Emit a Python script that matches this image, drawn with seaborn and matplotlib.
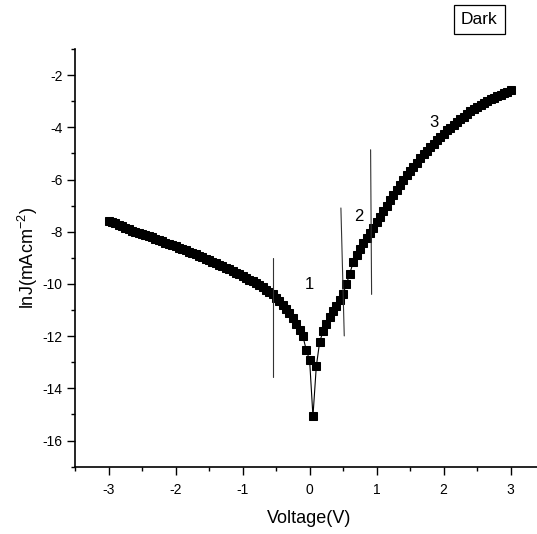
import numpy as np
import matplotlib
matplotlib.use("Agg")
import matplotlib.pyplot as plt
import pandas as pd
import seaborn as sns

# Dark J-V sweep, -3 V to +3 V in 0.05 V steps
voltage = np.round(np.linspace(-3.0, 3.0, 121), 2)

# ln J, reverse bias (-3.00 ... -0.10 V)
lnj_reverse = [
    -7.60, -7.63, -7.68, -7.73, -7.79, -7.85, -7.91, -7.96, -8.00, -8.04,
    -8.08, -8.13, -8.17, -8.22, -8.26, -8.31, -8.36, -8.42, -8.46, -8.51,
    -8.56, -8.61, -8.66, -8.71, -8.76, -8.81, -8.86, -8.92, -8.97, -9.03,
    -9.09, -9.14, -9.20, -9.26, -9.32, -9.38, -9.44, -9.50, -9.57, -9.63,
    -9.69, -9.76, -9.83, -9.90, -9.97, -10.05, -10.13, -10.22, -10.31, -10.40,
    -10.52, -10.65, -10.79, -10.95, -11.12, -11.31, -11.52, -11.76, -12.00,
]
# around zero (-0.05 ... 0.20 V)
lnj_zero = [-12.53, -12.92, -15.07, -13.16, -12.22, -11.82]
# forward bias (0.25 ... 3.00 V)
lnj_forward = [
    -11.52, -11.27, -11.05, -10.85, -10.62, -10.38, -10.00,
    -9.60, -9.17, -8.90, -8.66, -8.45, -8.25, -8.04, -7.84, -7.63, -7.42,
    -7.21, -7.01, -6.80, -6.60, -6.40, -6.20, -6.01, -5.84, -5.67, -5.51,
    -5.35, -5.19, -5.04, -4.90, -4.76, -4.62, -4.48, -4.36, -4.24, -4.12,
    -4.01, -3.90, -3.79, -3.69, -3.59, -3.49, -3.39, -3.31, -3.23, -3.15,
    -3.07, -3.00, -2.93, -2.87, -2.81, -2.75, -2.69, -2.63, -2.58,
]

# region separators (x0, x1, y0, y1) and region labels
separators = [
    (-0.54, -0.54, -9.00, -13.58),
    (0.467, 0.517, -7.09, -11.99),
    (0.91, 0.925, -4.86, -10.40),
]
region_labels = ['1', '2', '3']
region_label_pos = [(-0.01, -10.02), (0.74, -7.41), (1.85, -3.82)]


def main():
    df = pd.DataFrame({
        'Voltage(V)': voltage,
        'lnJ': lnj_reverse + lnj_zero + lnj_forward,
    })

    sns.set_style('ticks')
    plt.rcParams['font.family'] = ['Liberation Sans', 'DejaVu Sans']
    plt.rcParams['axes.unicode_minus'] = False
    for key in ['text.color', 'axes.labelcolor', 'xtick.color', 'ytick.color',
                'axes.edgecolor']:
        plt.rcParams[key] = 'black'

    fig = plt.figure(figsize=(5.37, 5.34), dpi=100)
    W, H = 537, 534
    ax = fig.add_axes([75 / W, (H - 466.7) / H, (544.2 - 75) / W, (466.7 - 49) / H])

    sns.lineplot(data=df, x='Voltage(V)', y='lnJ', ax=ax, color='black',
                 linewidth=0.8, marker='s', markersize=5.6,
                 markeredgecolor='black', markerfacecolor='black',
                 estimator=None, sort=False)

    for x0, x1, y0, y1 in separators:
        ax.plot([x0, x1], [y0, y1], color='#333333', linewidth=0.8)
    for lab, (lx, ly) in zip(region_labels, region_label_pos):
        ax.text(lx, ly, lab, fontsize=12, ha='center', va='center')

    ax.set_xlim(-3.5, 3.5)
    ax.set_ylim(-17, -1)
    ax.set_xticks([-3, -2, -1, 0, 1, 2, 3])
    ax.set_xticks(np.arange(-3.5, 3.6, 0.5), minor=True)
    ax.set_yticks([-16, -14, -12, -10, -8, -6, -4, -2])
    ax.set_yticks(np.arange(-17, -0.5, 1), minor=True)

    sns.despine(ax=ax)
    for s in ['left', 'bottom']:
        ax.spines[s].set_linewidth(1.2)
    ax.tick_params(which='major', direction='out', length=6, width=1, labelsize=10)
    ax.tick_params(which='minor', direction='out', length=3, width=1)
    ax.tick_params(axis='x', which='major', pad=6)
    ax.tick_params(axis='y', which='major', pad=3)

    ax.set_xlabel('Voltage(V)', fontsize=13)
    ax.set_ylabel('lnJ(mAcm$^{\\mathregular{-2}}$)', fontsize=13)
    ax.xaxis.set_label_coords(0.5, -0.103)
    ax.yaxis.set_label_coords(-0.075, 0.5)
    ax.grid(False)

    fig.text(479.5 / W, 1 - 19.5 / H, 'Dark', fontsize=12.5, ha='center', va='center',
             bbox=dict(boxstyle='square,pad=0.42', facecolor='white',
                       edgecolor='black', linewidth=0.9))

    fig.savefig('out.png', dpi=100)


if __name__ == '__main__':
    main()
